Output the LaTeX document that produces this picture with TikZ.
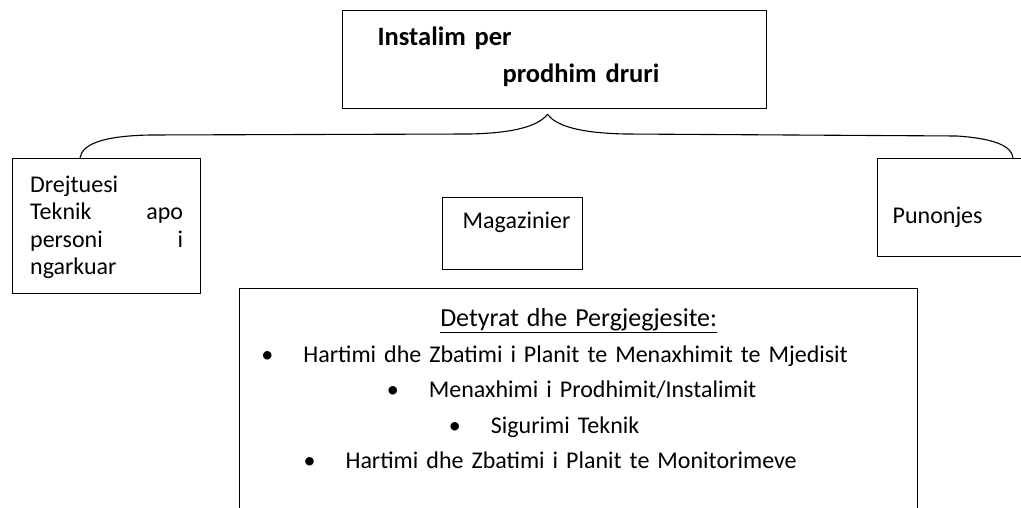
\documentclass[tikz,border=0pt]{standalone}
\usepackage{fontspec}
\setmainfont{Carlito}
\begin{document}
\begin{tikzpicture}[x=1pt,y=-1pt,
  box/.style={draw=black, line width=1.3pt, inner ysep=0pt, anchor=north west, align=left},
  brace/.style={draw=black, line width=1.1pt}]
\tikzstyle{every node}+=[font=\fontsize{24}{27.3}\selectfont]
\useasboundingbox (0,0) rectangle (1021,508);
\clip (0,0) rectangle (1021,508);
\node [box, text width=354pt, inner xsep=35pt, text height=35pt, text depth=63pt, font=\fontsize{26.5}{37}\selectfont\bfseries] (unit) at (342,10) {Instalim per\\\hspace*{125pt}prodhim druri};
\node [box, text width=153pt, inner xsep=17.5pt, text height=34pt, text depth=101pt] (lead) at (12,158) {Drejtuesi\\Teknik\hfill apo\\personi\hfill i\\ngarkuar};
\node [box, text width=100pt, inner xsep=20pt, text height=31pt, text depth=41pt] (store) at (442,197) {Magazinier};
\node [box, text width=140pt, inner xsep=15pt, text height=65pt, text depth=33pt] (worker) at (877,158) {Punonjes};
\node [box, align=center, text width=640pt, inner xsep=19pt, text height=38pt, text depth=220pt, font=\fontsize{24}{35.5}\selectfont] (duties) at (239,288) {{\fontsize{26}{35.5}\selectfont\underline{Detyrat dhe Pergjegjesite:}}\\
\hspace*{-48pt}\textbullet\hspace{30pt}Hartimi dhe Zbatimi i Planit te Menaxhimit te Mjedisit\\
\hspace*{-14pt}\textbullet\hspace{30pt}Menaxhimi i Prodhimit/Instalimit\\
\hspace*{-69pt}\textbullet\hspace{30pt}Sigurimi Teknik\\
\hspace*{-57pt}\textbullet\hspace{30pt}Hartimi dhe Zbatimi i Planit te Monitorimeve};
\coordinate (tip) at ([xshift=-7pt,yshift=-5pt]unit.south);
\draw [brace] (tip) .. controls (538,126) and (515,133) .. (470,134) -- (150,135) .. controls (100,136) and (82,145) .. ([xshift=68pt]lead.north west);
\draw [brace] (tip) .. controls (556,126) and (580,133) .. (625,134) -- (957,136) .. controls (1000,139) and (1012,148) .. ([xshift=136pt]worker.north west);
\end{tikzpicture}
\end{document}
